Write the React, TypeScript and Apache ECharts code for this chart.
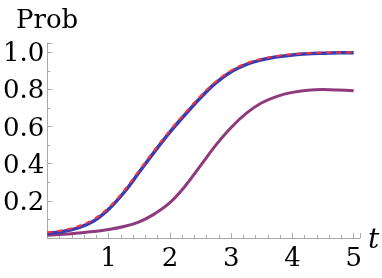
import React, { useEffect, useRef } from "react";
import * as echarts from "echarts";

const tValues = [0, 0.25, 0.5, 0.75, 1, 1.25, 1.5, 1.75, 2, 2.25, 2.5, 2.75, 3, 3.25, 3.5, 3.75, 4, 4.25, 4.5, 4.75, 5];
const blueValues = [0.025, 0.035, 0.055, 0.09, 0.155, 0.245, 0.355, 0.465, 0.57, 0.665, 0.755, 0.835, 0.895, 0.935, 0.96, 0.976, 0.986, 0.992, 0.995, 0.997, 0.998];
const redValues = [0.03, 0.042, 0.063, 0.1, 0.165, 0.255, 0.365, 0.475, 0.58, 0.675, 0.765, 0.843, 0.902, 0.941, 0.965, 0.98, 0.99, 0.995, 0.998, 0.999, 1.0];
const purpleValues = [0.015, 0.02, 0.027, 0.035, 0.046, 0.062, 0.087, 0.13, 0.19, 0.28, 0.39, 0.5, 0.595, 0.672, 0.728, 0.763, 0.784, 0.795, 0.799, 0.797, 0.793];

const serif = "DejaVu Serif";

export default function App() {
  const ref = useRef<HTMLDivElement>(null);
  useEffect(() => {
    if (!ref.current) return;
    const chart = echarts.init(ref.current, undefined, { renderer: "svg" });
    const pairs = (ys: number[]) => tValues.map((t, i) => [t, ys[i]]);
    chart.setOption({
      animation: false,
      textStyle: { fontFamily: serif },
      title: {
        text: "Prob",
        left: 11,
        top: 1,
        textStyle: { fontFamily: serif, fontSize: 26, fontWeight: "normal", color: "#000" },
      },
      grid: { left: 43, right: 20, top: 43, bottom: 40, containLabel: false },
      xAxis: {
        type: "value",
        min: 0,
        max: 5.1,
        interval: 1,
        name: "t",
        nameLocation: "end",
        nameGap: 6,
        nameTextStyle: { fontFamily: serif, fontSize: 28, fontStyle: "italic", color: "#000", verticalAlign: "middle" },
        axisLine: { lineStyle: { color: "#aaa", width: 1 } },
        axisTick: { inside: true, length: 5, lineStyle: { color: "#aaa" } },
        minorTick: { show: true, splitNumber: 5, length: 3, lineStyle: { color: "#aaa" } },
        splitLine: { show: false },
        axisLabel: {
          fontFamily: serif,
          fontSize: 26,
          color: "#000",
          margin: 6,
          formatter: (v: number) => (Number.isInteger(v) && v > 0 ? String(v) : ""),
        },
      },
      yAxis: {
        type: "value",
        min: 0,
        max: 1.05,
        interval: 0.2,
        axisLine: { show: true, lineStyle: { color: "#aaa", width: 1 } },
        axisTick: { show: true, inside: true, length: 5, lineStyle: { color: "#aaa" } },
        minorTick: { show: true, splitNumber: 2, length: 3, lineStyle: { color: "#aaa" } },
        splitLine: { show: false },
        axisLabel: {
          fontFamily: serif,
          fontSize: 26,
          color: "#000",
          margin: 3,
          formatter: (v: number) => {
            const k = v * 5;
            return v > 0.01 && Math.abs(k - Math.round(k)) < 1e-6 ? v.toFixed(1) : "";
          },
        },
      },
      series: [
        {
          type: "line",
          data: pairs(purpleValues),
          smooth: 0.4,
          showSymbol: false,
          lineStyle: { color: "#8e3a7c", width: 3 },
        },
        {
          type: "line",
          data: pairs(blueValues),
          smooth: 0.4,
          showSymbol: false,
          lineStyle: { color: "#3b3bb2", width: 3.5 },
        },
        {
          type: "line",
          data: pairs(redValues),
          smooth: 0.4,
          showSymbol: false,
          lineStyle: { color: "#ff3535", width: 2, type: [5, 5] },
        },
      ],
    });
    return () => chart.dispose();
  }, []);
  return <div ref={ref} style={{ width: 382, height: 278, position: "fixed", left: 0, top: 0 }} />;
}
